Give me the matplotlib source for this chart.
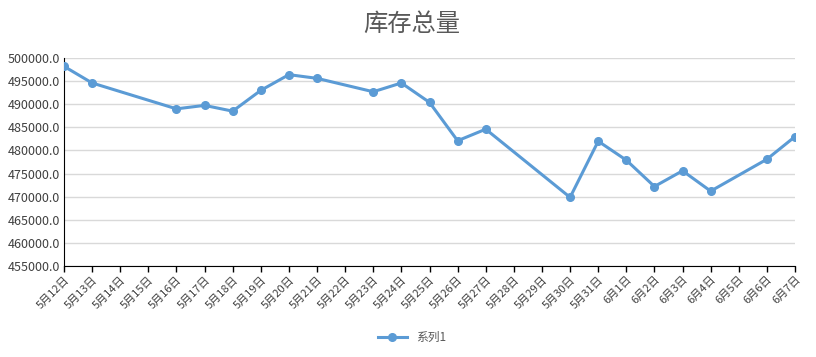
import pandas as pd
import matplotlib
matplotlib.use('Agg')
import matplotlib.pyplot as plt
import matplotlib.dates as mdates

plt.rcParams['font.family'] = ['Noto Sans CJK SC', 'DejaVu Sans']

# 数据
dates = ['2019-05-12', '2019-05-13', '2019-05-16', '2019-05-17', '2019-05-18',
         '2019-05-19', '2019-05-20', '2019-05-21', '2019-05-23', '2019-05-24',
         '2019-05-25', '2019-05-26', '2019-05-27', '2019-05-30', '2019-05-31',
         '2019-06-01', '2019-06-02', '2019-06-03', '2019-06-04', '2019-06-06',
         '2019-06-07']
values = [498200, 494600, 489000, 489750, 488500,
          493000, 496400, 495600, 492700, 494600,
          490400, 482100, 484600, 469850, 482000,
          477900, 472200, 475600, 471200, 478100,
          483000]
title = '库存总量'
series_name = '系列1'
y_ticks = [455000, 460000, 465000, 470000, 475000, 480000, 485000, 490000, 495000, 500000]

x = pd.to_datetime(dates)
color = '#5B9BD5'
text_color = '#595959'

fig = plt.figure(figsize=(8.16, 3.57), dpi=100)
ax = fig.add_axes([0.0784, 0.2549, 0.8959, 0.5826])

ax.plot(x, values, color=color, linewidth=2.2, marker='o', markersize=5.5,
        label=series_name, zorder=3)

ax.set_xlim(x[0], x[-1])
ax.set_ylim(455000, 500000)
ax.set_yticks(y_ticks)
ax.set_yticklabels(['%.1f' % v for v in y_ticks])

ax.xaxis.set_major_locator(mdates.DayLocator())
ax.xaxis.set_major_formatter(
    plt.FuncFormatter(lambda v, p: '%d月%d日' % (mdates.num2date(v).month, mdates.num2date(v).day)))
for lab in ax.get_xticklabels():
    lab.set_rotation(45)
    lab.set_ha('right')
    lab.set_rotation_mode('anchor')

ax.tick_params(axis='x', direction='out', length=4, width=1, color='black',
               labelsize=8, labelcolor='#404040', pad=2)
ax.tick_params(axis='y', length=0, labelsize=9, labelcolor='#404040', pad=3)

ax.grid(axis='y', color='#D9D9D9', linewidth=1)
ax.set_axisbelow(True)
for s in ['top', 'right']:
    ax.spines[s].set_visible(False)
ax.spines['left'].set_color('black')
ax.spines['bottom'].set_color('black')

fig.text(0.505, 0.933, title, ha='center', va='center', fontsize=17.5,
         color=text_color, fontweight='medium')

leg = fig.legend(loc='center', bbox_to_anchor=(0.505, 0.055), frameon=False,
                 fontsize=8.5, handlelength=2.5)
for t in leg.get_texts():
    t.set_color(text_color)

fig.savefig('out.png', dpi=100)
